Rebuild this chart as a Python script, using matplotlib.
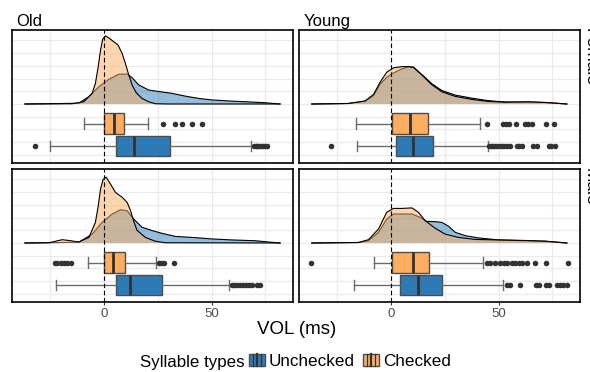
import numpy as np
import matplotlib
matplotlib.use("Agg")
import matplotlib.pyplot as plt
from matplotlib.patches import Patch, Rectangle
from matplotlib.lines import Line2D
from matplotlib.legend_handler import HandlerBase

plt.rcParams['font.family'] = ['Liberation Sans', 'DejaVu Sans']

BLUE = '#2C7BB6'
ORANGE = '#FDAE61'

# density curves (x in ms, height in panel units)
of_unc_x = [-36.6, -11.6, -6.9, -2.3, 2.3, 6.9, 10.8, 13.1, 16.2, 20.8, 25.5, 31.6, 37.8, 44.0, 50.2, 57.9, 65.6, 74.8, 81.8]
of_unc_h = [0, 0.03, 0.29, 0.68, 0.97, 1.17, 1.18, 1.04, 0.75, 0.55, 0.49, 0.42, 0.31, 0.22, 0.16, 0.12, 0.09, 0.05, 0]
of_chk_x = [-36.6, -14.7, -9.3, -5.4, -3.9, -2.6, -1.5, -0.5, 0.8, 2.3, 4.6, 6.6, 8.5, 10.0, 11.6, 13.1, 15.0, 17.7, 20.8, 23.9, 30.0, 81.8]
of_chk_h = [0, 0.01, 0.09, 0.42, 0.81, 1.47, 2.13, 2.55, 2.68, 2.60, 2.45, 2.32, 1.99, 1.60, 1.14, 0.75, 0.45, 0.22, 0.09, 0.01, 0, 0]

yf_x = [-36.7, -19.7, -11.9, -8.0, -5.0, -1.9, 1.2, 5.1, 8.2, 10.5, 14.4, 19.0, 23.7, 29.9, 37.6, 45.4, 53.1, 63.9, 71.7, 81.7]
yf_unc_h = [0, 0.02, 0.11, 0.33, 0.78, 1.05, 1.22, 1.38, 1.46, 1.45, 1.16, 0.80, 0.53, 0.35, 0.23, 0.13, 0.08, 0.07, 0.06, 0]
yf_chk_h = [0, 0.02, 0.12, 0.38, 0.85, 1.25, 1.42, 1.47, 1.47, 1.44, 1.14, 0.76, 0.48, 0.30, 0.18, 0.10, 0.07, 0.09, 0.06, 0]

om_unc_x = [-36.6, -11.6, -5.4, -0.8, 3.9, 7.7, 10.8, 13.9, 17.7, 22.4, 27.0, 33.2, 40.9, 50.2, 59.4, 70.2, 76.4, 81.8]
om_unc_h = [0, 0.03, 0.35, 0.81, 1.14, 1.31, 1.27, 0.94, 0.62, 0.49, 0.38, 0.26, 0.22, 0.16, 0.12, 0.09, 0.04, 0]
om_chk_x = [-36.6, -25.5, -19.3, -15.4, -11.6, -6.9, -3.9, -2.6, -1.5, -0.3, 1.1, 3.1, 5.4, 8.5, 10.8, 12.3, 13.9, 15.4, 19.3, 23.9, 28.5, 81.8]
om_chk_h = [0, 0.01, 0.13, 0.09, 0.04, 0.22, 0.81, 1.45, 2.13, 2.50, 2.59, 2.32, 1.99, 1.80, 1.60, 1.30, 0.85, 0.50, 0.22, 0.07, 0.01, 0]

ym_chk_x = [-36.7, -15.0, -10.4, -5.7, -1.9, 1.2, 5.1, 9.8, 12.8, 15.9, 20.6, 25.2, 31.4, 39.2, 50.0, 62.4, 71.7, 81.7]
ym_chk_h = [0, 0.02, 0.13, 0.55, 1.21, 1.36, 1.36, 1.38, 1.21, 0.88, 0.58, 0.35, 0.22, 0.14, 0.12, 0.10, 0.07, 0]
ym_unc_x = [-36.7, -15.0, -10.4, -5.7, -1.9, 1.2, 5.1, 9.8, 13.6, 16.7, 20.6, 23.7, 26.8, 29.9, 34.5, 40.7, 50.0, 62.4, 71.7, 81.7]
ym_unc_h = [0, 0.02, 0.09, 0.42, 0.94, 1.14, 1.14, 1.14, 1.01, 0.85, 0.84, 0.81, 0.66, 0.42, 0.29, 0.20, 0.12, 0.09, 0.07, 0]

# boxplot summaries: whislo, q1, med, q3, whishi, fliers
of_chk_box = [-9.3, 0.3, 4.6, 9.3, 20.5, [27.3, 32.9, 36.3, 40.9, 45.5]]
of_unc_box = [-25.0, 5.6, 13.9, 30.6, 68.1, [-32.1, 69.6, 70.4, 71.3, 72.2, 73.1, 74.0, 74.8, 75.6]]
yf_chk_box = [-16.1, 0.5, 9.0, 17.2, 41.2, [44.6, 52.0, 53.5, 55.0, 58.0, 62.2, 63.7, 65.5, 72.0, 75.9]]
yf_unc_box = [-15.8, 2.5, 10.1, 19.5, 44.9, [-27.7, 45.5, 46.5, 47.5, 48.5, 49.5, 50.5, 51.5, 52.5, 54.0, 55.5,
                                            58.5, 59.5, 61.0, 66.0, 68.0, 73.2, 74.5, 76.0]]
om_chk_box = [-7.3, 0.3, 4.3, 10.0, 24.2, [-22.7, -21.5, -20.0, -18.5, -17.0, -15.4, 25.5, 26.5, 27.8, 32.4]]
om_unc_box = [-22.1, 5.6, 12.3, 27.0, 58.3, [59.4, 60.5, 61.8, 63.0, 64.5, 66.0, 67.5, 69.0, 71.0, 72.5]]
ym_chk_box = [-7.6, 0.5, 10.1, 17.5, 42.6, [-37.0, 44.6, 46.2, 48.5, 50.8, 52.3, 53.9, 56.2, 57.7, 59.3, 61.1,
                                           63.1, 66.7, 72.0, 82.2]]
ym_unc_box = [-16.9, 4.3, 12.8, 23.7, 52.0, [53.9, 55.4, 60.1, 67.3, 68.6, 72.0, 73.2, 77.1, 78.6, 80.1, 81.7]]

panels = [
    # (left px, top px, title, unchecked curve, checked curve, unchecked box, checked box)
    (12, 30, 'Old', (of_unc_x, of_unc_h), (of_chk_x, of_chk_h), of_unc_box, of_chk_box),
    (299, 30, 'Young', (yf_x, yf_unc_h), (yf_x, yf_chk_h), yf_unc_box, yf_chk_box),
    (12, 169, None, (om_unc_x, om_unc_h), (om_chk_x, om_chk_h), om_unc_box, om_chk_box),
    (299, 169, None, (ym_unc_x, ym_unc_h), (ym_chk_x, ym_chk_h), ym_unc_box, ym_chk_box),
]

W, H = 590, 372
fig = plt.figure(figsize=(W / 100, H / 100), dpi=100)


def box_stats(b):
    return dict(whislo=b[0], q1=b[1], med=b[2], q3=b[3], whishi=b[4], fliers=b[5])


def draw_box(ax, b, pos, color):
    ax.bxp([box_stats(b)], positions=[pos], widths=[0.82], capwidths=[0.41],
           orientation='horizontal', patch_artist=True, manage_ticks=False,
           boxprops=dict(facecolor=color, edgecolor='#4d4d4d', linewidth=1.0),
           medianprops=dict(color='#333333', linewidth=2.0),
           whiskerprops=dict(color='#6b6b6b', linewidth=1.0),
           capprops=dict(color='#6b6b6b', linewidth=1.0),
           flierprops=dict(marker='o', markerfacecolor='#333333', markeredgecolor='none',
                           markersize=4.0),
           zorder=3)


for i, (left, top, title, unc, chk, unc_box, chk_box) in enumerate(panels):
    ax = fig.add_axes([left / W, (H - top - 133) / H, 281 / W, 133 / H])
    ax.set_xlim(-42.6, 87.8)
    ax.set_ylim(-2.32, 2.91)

    ax.set_xticks([0, 50])
    ax.set_xticks([-25, 25, 75], minor=True)
    ax.set_yticks(np.arange(-2, 2.6, 0.5))
    ax.set_yticklabels([])
    ax.tick_params(axis='y', length=0)
    ax.tick_params(axis='x', which='minor', length=0)
    ax.grid(True, which='both', color='#EBEBEB', linewidth=0.9)
    ax.set_axisbelow(True)
    for s in ax.spines.values():
        s.set_color('black')
        s.set_linewidth(1.2)

    if i < 2:
        ax.tick_params(axis='x', which='major', length=0, labelbottom=False)
        ax.set_title(title, loc='left', fontsize=12, pad=3, x=0.015)
    else:
        ax.tick_params(axis='x', which='major', length=2.5, width=0.8, color='#333333',
                       labelsize=9.5, labelcolor='#4D4D4D', pad=2)

    # densities, unchecked first, checked over it
    ax.fill_between(unc[0], 0, unc[1], facecolor=BLUE, alpha=0.5, edgecolor='none', zorder=1)
    ax.plot(unc[0], unc[1], color='black', linewidth=0.8, zorder=1)
    ax.fill_between(chk[0], 0, chk[1], facecolor=ORANGE, alpha=0.5, edgecolor='none', zorder=2)
    ax.plot(chk[0], chk[1], color='black', linewidth=0.8, zorder=2)

    draw_box(ax, chk_box, -0.77, ORANGE)
    draw_box(ax, unc_box, -1.65, BLUE)

    ax.axvline(0, color='black', linewidth=0.8, dashes=(4, 2.5), zorder=4)

# facet labels on the right, mostly cut off by the figure edge
fig.text(583 / W, (H - 28) / H, 'Female', rotation=-90, ha='left', va='top', fontsize=12.5)
fig.text(583 / W, (H - 168) / H, 'Male', rotation=-90, ha='left', va='top', fontsize=12.5)

fig.text(297 / W, (H - 334) / H, 'VOL (ms)', ha='center', va='baseline', fontsize=13.5)


class BoxKey(HandlerBase):
    def create_artists(self, legend, orig_handle, xdescent, ydescent, width, height, fontsize, trans):
        x0, y0 = -xdescent, -ydescent
        fc = orig_handle.get_facecolor()
        rect = Rectangle((x0, y0), width, height, facecolor=fc, edgecolor='#4d4d4d',
                         linewidth=1.0, transform=trans)
        arts = [rect]
        for f, lw in [(0.25, 0.9), (0.5, 1.6), (0.75, 0.9)]:
            arts.append(Line2D([x0 + f * width] * 2, [y0, y0 + height], color='#333333',
                               linewidth=lw, transform=trans))
        return arts


handles = [Patch(facecolor=BLUE), Patch(facecolor=ORANGE)]
fig.text(140 / W, (H - 367) / H, 'Syllable types', ha='left', va='baseline', fontsize=12.2)
fig.legend(handles, ['Unchecked', 'Checked'], handler_map={Patch: BoxKey()},
           ncol=2, loc='center left', bbox_to_anchor=(249 / W, (H - 361) / H),
           frameon=False, fontsize=12.3, handlelength=0.95, handleheight=0.7,
           handletextpad=0.2, columnspacing=0.5, borderpad=0, borderaxespad=0)

fig.savefig('out.png', dpi=100, facecolor='white')
